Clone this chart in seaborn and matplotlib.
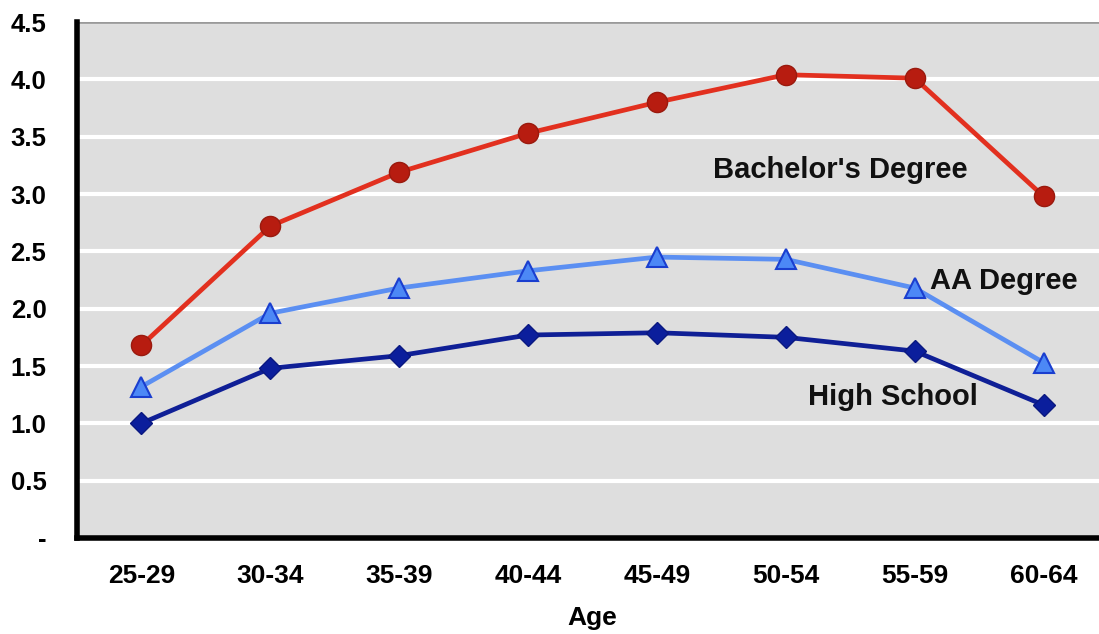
import matplotlib
matplotlib.use("Agg")
import matplotlib.pyplot as plt
import seaborn as sns
import pandas as pd

ages = ["25-29", "30-34", "35-39", "40-44", "45-49", "50-54", "55-59", "60-64"]
bachelors = [1.68, 2.72, 3.19, 3.53, 3.80, 4.04, 4.01, 2.98]
aa_degree = [1.32, 1.96, 2.18, 2.33, 2.45, 2.43, 2.18, 1.53]
high_school = [1.00, 1.48, 1.59, 1.77, 1.79, 1.75, 1.63, 1.16]

y_ticks = [0, 0.5, 1.0, 1.5, 2.0, 2.5, 3.0, 3.5, 4.0, 4.5]
y_tick_labels = ["-", "0.5", "1.0", "1.5", "2.0", "2.5", "3.0", "3.5", "4.0", "4.5"]

sns.set_theme(style="white")
plt.rcParams["font.family"] = ["Liberation Sans", "DejaVu Sans"]
plt.rcParams["font.weight"] = "bold"
plt.rcParams["text.color"] = "black"
plt.rcParams["axes.labelcolor"] = "black"
plt.rcParams["xtick.color"] = "black"
plt.rcParams["ytick.color"] = "black"

W, H = 1099, 634
fig = plt.figure(figsize=(W / 100, H / 100), dpi=100)
ax = fig.add_axes([77 / W, 96 / H, 1031 / W, 516 / H])
ax.set_facecolor("#DEDEDE")

df = pd.DataFrame({"Age": ages, "Bachelor": bachelors, "AA": aa_degree, "HS": high_school})

sns.lineplot(data=df, x="Age", y="HS", ax=ax, color="#0F1F96", lw=3.4,
             marker="D", markersize=11, markerfacecolor="#0B1E9C",
             markeredgecolor="#0A1880", markeredgewidth=1, zorder=3)
sns.lineplot(data=df, x="Age", y="AA", ax=ax, color="#5B8FF2", lw=3.4,
             marker="^", markersize=15, markerfacecolor="#4C88F6",
             markeredgecolor="#1A3ECF", markeredgewidth=1.5, zorder=4)
sns.lineplot(data=df, x="Age", y="Bachelor", ax=ax, color="#E2301F", lw=3.4,
             marker="o", markersize=14.5, markerfacecolor="#B71C10",
             markeredgecolor="#9A1A0E", markeredgewidth=1, zorder=5)

ax.set_xlim(-0.5, 7.5)
ax.set_ylim(0, 4.5)
ax.set_yticks(y_ticks)
ax.set_yticklabels(y_tick_labels)
ax.yaxis.grid(True, color="white", lw=3)
ax.xaxis.grid(False)
ax.set_axisbelow(True)

for s in ["top", "right"]:
    ax.spines[s].set_visible(False)
ax.axhline(4.5, color="#9A9A9A", lw=2, zorder=2)
ax.spines["left"].set_color("black")
ax.spines["left"].set_linewidth(4)
ax.spines["bottom"].set_color("black")
ax.spines["bottom"].set_linewidth(4)

ax.tick_params(axis="y", length=0, pad=22, labelsize=18.5, labelcolor="black")
ax.tick_params(axis="x", length=0, pad=19, labelsize=19, labelcolor="black")
for lab in ax.get_xticklabels() + ax.get_yticklabels():
    lab.set_fontweight("bold")

ax.set_ylabel("")
ax.set_xlabel("Age", fontsize=19, fontweight="bold", labelpad=13, color="black")

ax.text(5.42, 3.21, "Bachelor's Degree", fontsize=21, fontweight="bold",
        ha="center", va="center", color="#111111")
ax.text(6.69, 2.24, "AA Degree", fontsize=21, fontweight="bold",
        ha="center", va="center", color="#111111")
ax.text(5.83, 1.23, "High School", fontsize=21, fontweight="bold",
        ha="center", va="center", color="#111111")

fig.savefig("out.png", dpi=100)
